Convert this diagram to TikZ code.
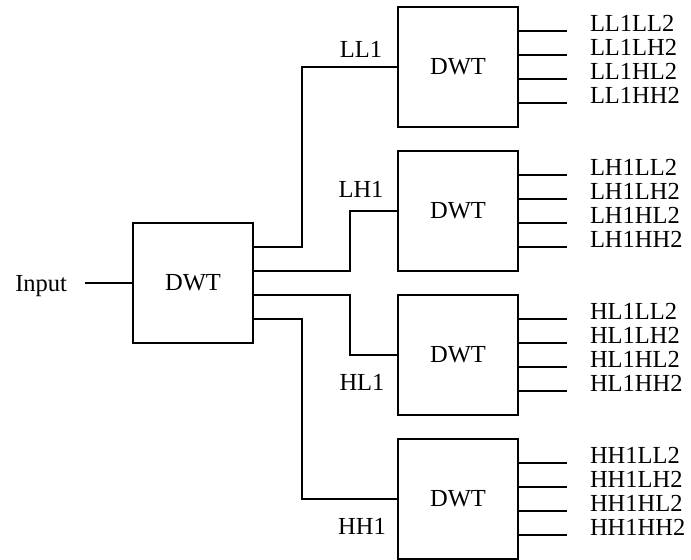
\documentclass[tikz,border=0pt]{standalone}
\usepackage{fontspec}
\setmainfont{Liberation Serif}
\usetikzlibrary{positioning}
\begin{document}
\begin{tikzpicture}[
				x=0.5pt, y=-0.5pt,
				line width=1pt,
				font=\fontsize{12.25}{14}\selectfont,
				dwtbox/.style={draw, minimum width=60pt, minimum height=60pt, inner sep=0pt, outer sep=0pt},
				bandlbl/.style={anchor=base, inner sep=0pt},
				outlbl/.style={anchor=base west, inner sep=0pt},
				node distance=12pt
				]
				\useasboundingbox (0,0) rectangle (691,559);
				% first level
				\node[dwtbox] (main) at (193,283) {DWT};
				\node[left=24pt of main, inner xsep=8.5pt, inner ysep=0pt, text height=8.1pt, text depth=0pt] (input) {Input};
				\draw (input) -- (main);
				% second level
				\node[dwtbox] (b1) at (458,67) {DWT};
				\node[dwtbox, below=of b1] (b2) {DWT};
				\node[dwtbox, below=of b2] (b3) {DWT};
				\node[dwtbox, below=of b3] (b4) {DWT};
				\foreach \s [count=\i] in {18,6,-6,-18}
					\coordinate (m\i) at ([yshift=\s pt]main.east);
				\draw (m1) -- ++(49,0) |- (b1.west);
				\draw (m2) -- ++(97,0) |- (b2.west);
				\draw (m3) -- ++(97,0) |- (b3.west);
				\draw (m4) -- ++(49,0) |- (b4.west);
				\node[bandlbl] (ll1) at (361,57) {LL1};
				\node[bandlbl] (lh1) at (361,197) {LH1};
				\node[bandlbl] (hl1) at (362,390) {HL1};
				\node[bandlbl] (hh1) at (362,534) {HH1};
				% outputs
				\foreach \b/\pre in {b1/LL1, b2/LH1, b3/HL1, b4/HH1}
					\foreach \s/\suf [count=\i] in {18/LL2, 6/LH2, -6/HL2, -18/HH2} {
						\draw ([yshift=\s pt]\b.east) -- ++(49,0) coordinate (\b-o\i);
						\node[outlbl] (\b-t\i) at ([xshift=11pt]\b-o\i) {\pre\suf};
					}
			\end{tikzpicture}
\end{document}
